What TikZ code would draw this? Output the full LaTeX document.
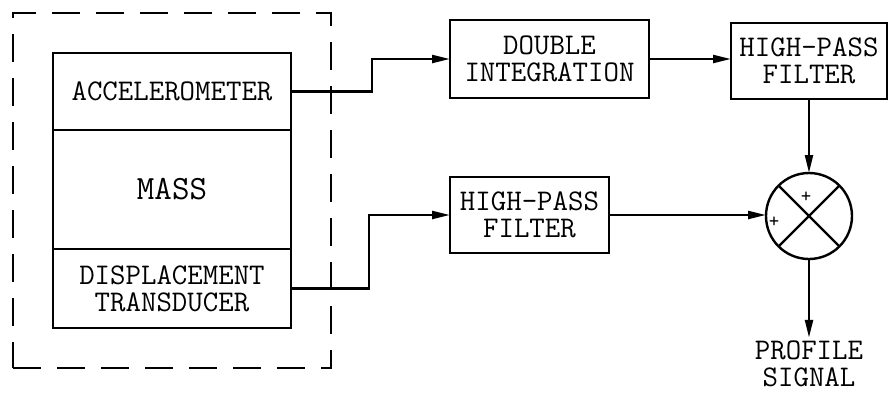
\documentclass[tikz,border=0pt]{standalone}
\usepackage{tikz}
\usetikzlibrary{arrows.meta,positioning,fit}

\begin{document}
\begin{tikzpicture}[
  x=0.5pt, y=-0.5pt,
  line width=1.2pt,
  font=\ttfamily\fontsize{15}{13.5}\selectfont,
  block/.style={draw, align=center, inner sep=2pt, outer sep=0pt, minimum height=38pt},
  stack/.style={draw, align=center, outer sep=0pt, minimum width=119pt},
  summer/.style={draw, circle, minimum size=43pt, inner sep=0pt, outer sep=0pt},
  sign/.style={inner sep=0pt, font=\ttfamily\fontsize{10}{10}\selectfont},
  arrow/.style={-{Triangle[length=9pt, width=4pt]}}
]
\useasboundingbox (0,0) rectangle (891,392);
\node[stack, minimum height=59.5pt, font=\ttfamily\fontsize{17}{17}\selectfont] (mass) at (172,189.5) {MASS};
\node[stack, minimum height=38.5pt, above=0pt of mass] (acc) {ACCELEROMETER};
\node[stack, minimum height=39.5pt, below=0pt of mass] (disp) {DISPLACEMENT\\TRANSDUCER};
\node[draw, dash pattern=on 14pt off 8pt, fit=(acc)(disp), inner sep=20pt] (sensor) {};
\node[block, minimum width=99.5pt, minimum height=39pt] (dint) at (549.5,59) {DOUBLE\\INTEGRATION};
\node[block, minimum width=78pt] (hpfa) at (809,61) {HIGH-PASS\\FILTER};
\node[block, minimum width=79.5pt] (hpfb) at (529.5,215) {HIGH-PASS\\FILTER};
\node[summer] (sum) at (809,216) {};
\node[sign] (plusa) at (806,197) {+};
\node[sign] (plusb) at (774,222) {+};
\node[align=center, inner sep=1pt] (out) at (809,364) {PROFILE\\SIGNAL};
\draw (sum.north west) -- (sum.south east);
\draw (sum.south west) -- (sum.north east);
\draw[arrow] (acc.east) -- ++(81,0) |- (dint.west);
\draw[arrow] (disp.east) -- ++(78,0) |- (hpfb.west);
\draw[arrow] (dint.east) -- (dint.east -| hpfa.west);
\draw[arrow] (hpfa.south) -- (sum.north);
\draw[arrow] (hpfb.east) -- (hpfb.east -| sum.west);
\draw[arrow] (sum.south) -- (out.north);
\end{tikzpicture}
\end{document}
